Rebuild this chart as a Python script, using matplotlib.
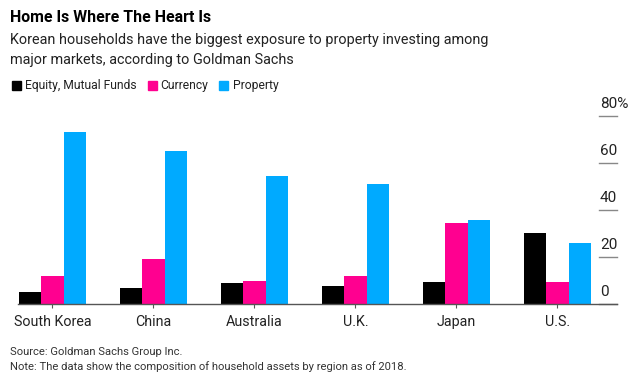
import matplotlib.pyplot as plt
import numpy as np

plt.rcParams['font.family'] = ['Roboto', 'DejaVu Sans']

# data (percent of household assets)
regions = ['South Korea', 'China', 'Australia', 'U.K.', 'Japan', 'U.S.']
equity = [5.0, 6.9, 9.1, 7.8, 9.2, 30.1]
currency = [12.1, 19.0, 9.9, 12.1, 34.3, 9.2]
property_ = [73.0, 65.1, 54.3, 50.9, 35.9, 26.0]
series_names = ['Equity, Mutual Funds', 'Currency', 'Property']
colors = ['#000000', '#ff0090', '#00aaff']
yticks = [0, 20, 40, 60, 80]

fig = plt.figure(figsize=(6.35, 3.8), dpi=100)
ax = fig.add_axes([18/635, 1-304/380, (617-18)/635, (304-116)/380])

x = np.arange(len(regions))
w = 0.223
for i, (vals, c) in enumerate(zip([equity, currency, property_], colors)):
    ax.bar(x + (i-1)*w, vals, width=w, color=c, linewidth=0)

ax.set_xlim(-0.34, 5.59)
ax.set_ylim(0, 80)
for s in ['top', 'left', 'right']:
    ax.spines[s].set_visible(False)
ax.spines['bottom'].set_color('#555555')
ax.spines['bottom'].set_linewidth(1)
ax.set_xticks(x)
ax.set_xticklabels(regions, fontsize=10.3, color='#222222')
ax.tick_params(axis='x', length=3, color='#555555', pad=5)
ax.set_yticks([])

# right-hand value scale: short lines with labels above
for v in yticks:
    ax.plot([5.41, 5.59], [v, v], color='#888888', lw=1, clip_on=False)
    lab = '%d%%' % v if v == 80 else str(v)
    ax.text(5.42, v + 2.3, lab, fontsize=11, ha='left', va='bottom', color='#222222')

fig.text(10/635, 1-17/380, 'Home Is Where The Heart Is', fontsize=11.4,
         fontweight='bold', va='center')
fig.text(10/635, 1-50/380, 'Korean households have the biggest exposure to property investing among\n'
         'major markets, according to Goldman Sachs', fontsize=10.4, va='center',
         color='#222222', linespacing=1.5)

# legend row, each entry placed after the previous one
r = fig.canvas.get_renderer()
px = 12
for name, c in zip(series_names, colors):
    fig.patches.append(plt.Rectangle((px/635, 1-90/380), 9/635, 9/380,
                                     transform=fig.transFigure, color=c))
    t = fig.text((px+13)/635, 1-85/380, name, fontsize=8.7, va='center', color='#222222')
    px = t.get_window_extent(r).x1 + 11

fig.text(10/635, 1-352/380, 'Source: Goldman Sachs Group Inc.', fontsize=8.1,
         va='center', color='#333333')
fig.text(10/635, 1-367/380, 'Note: The data show the composition of household assets by region as of 2018.',
         fontsize=8.1, va='center', color='#333333')

fig.savefig('out.png', dpi=100)
